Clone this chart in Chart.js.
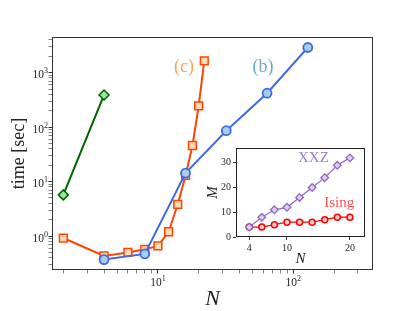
<!DOCTYPE html>
<html>
<head>
<meta charset="utf-8">
<script src="https://cdn.jsdelivr.net/npm/chart.js@4.4.0/dist/chart.umd.min.js"></script>
<style>
html, body { margin: 0; padding: 0; background: #fff; }
#wrap { position: relative; width: 415px; height: 311px; }
#main { position: absolute; left: 0; top: 0; }
#inset { position: absolute; left: 200px; top: 140px; }
</style>
</head>
<body>
<div id="wrap">
<canvas id="main" width="415" height="311"></canvas>
<canvas id="inset" width="175" height="130"></canvas>
</div>
<script>
// main panel: run time vs system size
const greenN = [2, 4];
const greenTime = [5.7, 390];
const orangeN = [2, 4, 6, 8, 10, 12, 14, 16, 18, 20, 22];
const orangeTime = [0.92, 0.43, 0.50, 0.57, 0.66, 1.2, 3.8, 13, 46, 245, 1650];
const blueN = [4, 8, 16, 32, 64, 128];
const blueTime = [0.37, 0.47, 14.3, 86, 420, 2900];

// inset: M vs N
const insetN = [4, 6, 8, 10, 12, 14, 16, 18, 20];
const xxzM = [4, 8, 11, 12, 16, 20, 24, 29, 32];
const isingM = [4, 4, 5, 6, 6, 6, 7, 8, 8];

// ticks
const mainXMajor = [10, 100];
const mainYMajor = [1, 10, 100, 1000];
const insetXTicks = [4, 10, 20];
const insetYTicks = [0, 10, 20, 30];

const SERIF = '"Liberation Serif", "DejaVu Serif", serif';

function logTicks(lo, hi) {
  const out = [];
  for (let e = -1; e <= 3; e++) {
    for (let m = 1; m <= 9; m++) {
      const v = m * Math.pow(10, e);
      if (v >= lo && v <= hi) out.push(+v.toPrecision(3));
    }
  }
  return out;
}

const pts = (xs, ys) => xs.map((x, i) => ({x: x, y: ys[i]}));

function drawPow(ctx, px, cy, exp, align) {
  ctx.font = '11.5px ' + SERIF;
  const bw = ctx.measureText('10').width;
  ctx.font = '8px ' + SERIF;
  const es = String(exp);
  const ew = ctx.measureText(es).width;
  const x0 = align === 'center' ? px - (bw + ew) / 2 : px - bw - ew;
  const base = cy + 4;
  ctx.textAlign = 'left';
  ctx.textBaseline = 'alphabetic';
  ctx.font = '11.5px ' + SERIF;
  ctx.fillText('10', x0, base);
  ctx.font = '8px ' + SERIF;
  ctx.fillText(es, x0 + bw, base - 5);
}

const mainDecor = {
  id: 'mainDecor',
  afterDraw(chart) {
    const {ctx, chartArea: a, scales: {x, y}} = chart;
    ctx.save();
    ctx.strokeStyle = '#333';
    ctx.lineWidth = 1;
    ctx.strokeRect(a.left + 0.5, a.top + 0.5, a.right - a.left - 1, a.bottom - a.top - 1);
    ctx.fillStyle = '#262626';
    mainXMajor.forEach(v => drawPow(ctx, x.getPixelForValue(v), a.bottom + 11.5, Math.round(Math.log10(v)), 'center'));
    mainYMajor.forEach(v => drawPow(ctx, a.left - 4, y.getPixelForValue(v) + 1.5, Math.round(Math.log10(v)), 'right'));
    ctx.font = '18px ' + SERIF;
    ctx.textAlign = 'center';
    ctx.textBaseline = 'middle';
    ctx.fillStyle = '#fda35a';
    ctx.fillText('(c)', x.getPixelForValue(15.6), y.getPixelForValue(1270));
    ctx.fillStyle = '#6ea3d5';
    ctx.fillText('(b)', x.getPixelForValue(59.7), y.getPixelForValue(1270));
    ctx.restore();
  }
};

const tickW = c => (c.tick && c.tick.major) ? 1 : 0.6;

new Chart(document.getElementById('main'), {
  type: 'line',
  data: {
    datasets: [
      {
        data: pts(blueN, blueTime), order: 0,
        borderColor: '#4169e1', borderWidth: 2,
        pointStyle: 'circle', pointRadius: 4.5,
        pointBackgroundColor: '#a3cfea', pointBorderColor: '#4169e1', pointBorderWidth: 1.8
      },
      {
        data: pts(orangeN, orangeTime), order: 1,
        borderColor: '#ff4500', borderWidth: 2,
        pointStyle: 'rect', pointRadius: 5.5,
        pointBackgroundColor: '#ffdab9', pointBorderColor: '#ff4500', pointBorderWidth: 1.5
      },
      {
        data: pts(greenN, greenTime), order: 2,
        borderColor: '#006400', borderWidth: 2,
        pointStyle: 'rectRot', pointRadius: 5,
        pointBackgroundColor: '#98e898', pointBorderColor: '#006400', pointBorderWidth: 1.5
      }
    ]
  },
  options: {
    responsive: false,
    animation: false,
    events: [],
    layout: { padding: { left: 0, top: 37, right: 42, bottom: 0 } },
    plugins: { legend: { display: false }, tooltip: { enabled: false } },
    elements: { line: { tension: 0, fill: false } },
    scales: {
      x: {
        type: 'logarithmic', min: 1.65, max: 388,
        afterBuildTicks: s => { s.ticks = logTicks(1.65, 388).map(v => ({value: v, major: mainXMajor.includes(v)})); },
        afterFit: s => { s.height = 41; },
        grid: { drawOnChartArea: false, tickLength: 3.5, tickColor: '#333', tickWidth: tickW },
        border: { display: false },
        ticks: { display: false, autoSkip: false },
        title: { display: true, text: 'N', color: '#222',
          font: { family: SERIF, size: 22, style: 'italic', lineHeight: 1 },
          padding: { top: 0, bottom: 1 } }
      },
      y: {
        type: 'logarithmic', min: 0.238, max: 4520,
        afterBuildTicks: s => { s.ticks = logTicks(0.238, 4520).map(v => ({value: v, major: mainYMajor.includes(v)})); },
        afterFit: s => { s.width = 52; },
        grid: { drawOnChartArea: false, tickLength: 3.5, tickColor: '#333', tickWidth: tickW },
        border: { display: false },
        ticks: { display: false, autoSkip: false },
        title: { display: true, text: 'time [sec]', color: '#222',
          font: { family: SERIF, size: 18, lineHeight: 1 },
          padding: { top: 10, bottom: 0 } }
      }
    }
  },
  plugins: [mainDecor]
});

const insetDecor = {
  id: 'insetDecor',
  beforeDraw(chart) {
    const {ctx, chartArea: a} = chart;
    ctx.save();
    ctx.fillStyle = '#fff';
    ctx.fillRect(a.left, a.top, a.right - a.left, a.bottom - a.top);
    ctx.restore();
  },
  afterDraw(chart) {
    const {ctx, chartArea: a, scales: {x, y}} = chart;
    ctx.save();
    ctx.strokeStyle = '#222';
    ctx.lineWidth = 1;
    ctx.strokeRect(a.left + 0.5, a.top + 0.5, a.right - a.left - 1, a.bottom - a.top - 1);
    ctx.font = '15px ' + SERIF;
    ctx.textAlign = 'center';
    ctx.textBaseline = 'middle';
    ctx.fillStyle = '#9c7fd0';
    ctx.fillText('XXZ', x.getPixelForValue(14.2), y.getPixelForValue(31.8));
    ctx.fillStyle = '#ff5252';
    ctx.fillText('Ising', x.getPixelForValue(18.3), y.getPixelForValue(13.7));
    ctx.restore();
  }
};

new Chart(document.getElementById('inset'), {
  type: 'line',
  data: {
    datasets: [
      {
        data: pts(insetN, xxzM), order: 0,
        borderColor: '#9467bd', borderWidth: 1.2,
        pointStyle: 'rectRot', pointRadius: 3.8,
        pointBackgroundColor: '#dccff2', pointBorderColor: '#9467bd', pointBorderWidth: 1.3
      },
      {
        data: pts(insetN, isingM), order: 1,
        borderColor: '#ff0000', borderWidth: 1.2,
        pointStyle: 'circle', pointRadius: 3,
        pointBackgroundColor: '#ffcccc', pointBorderColor: '#ff0000', pointBorderWidth: 1.5
      }
    ]
  },
  options: {
    responsive: false,
    animation: false,
    events: [],
    layout: { padding: { left: 0, top: 4, right: 10, bottom: 0 } },
    plugins: { legend: { display: false }, tooltip: { enabled: false } },
    elements: { line: { tension: 0, fill: false } },
    scales: {
      x: {
        type: 'linear', min: 1.9, max: 22.4,
        afterBuildTicks: s => { s.ticks = insetXTicks.map(v => ({value: v})); },
        afterFit: s => { s.height = 33; },
        grid: { drawOnChartArea: false, tickLength: 3, tickColor: '#333' },
        border: { display: false },
        ticks: { autoSkip: false, maxRotation: 0, padding: 2, color: '#262626', font: { family: SERIF, size: 10 } },
        title: { display: true, text: 'N', color: '#222',
          font: { family: SERIF, size: 15, style: 'italic', lineHeight: 1 },
          padding: { top: 0, bottom: 3.5 } }
      },
      y: {
        type: 'linear', min: 0, max: 36,
        afterBuildTicks: s => { s.ticks = insetYTicks.map(v => ({value: v})); },
        afterFit: s => { s.width = 36; },
        grid: { drawOnChartArea: false, tickLength: 3, tickColor: '#333' },
        border: { display: false },
        ticks: { autoSkip: false, padding: 2, color: '#262626', font: { family: SERIF, size: 10 } },
        title: { display: true, text: 'M', color: '#222',
          font: { family: SERIF, size: 15, style: 'italic', lineHeight: 1 },
          padding: { top: 5.5, bottom: 0 } }
      }
    }
  },
  plugins: [insetDecor]
});
</script>
</body>
</html>
